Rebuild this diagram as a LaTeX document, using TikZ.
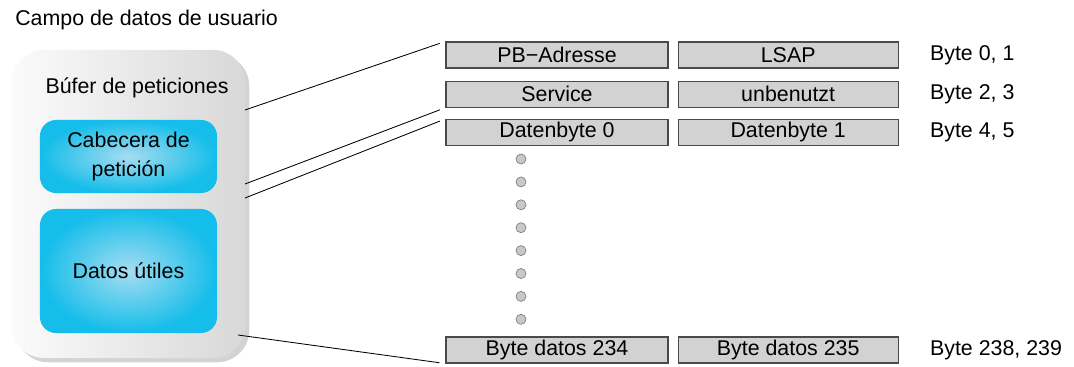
\documentclass[tikz,border=0pt]{standalone}
\usepackage{fontspec}
\setmainfont{Liberation Sans}
\usepackage{tikz}
\usetikzlibrary{positioning,shadows}
\definecolor{Frame}{HTML}{3A3A3A}
\definecolor{Cell}{HTML}{D2D2D2}
\definecolor{CellLine}{HTML}{4A4A4A}
\definecolor{BufLight}{HTML}{FBFBFB}
\definecolor{BufDark}{HTML}{D8D8D8}
\definecolor{Cyan}{HTML}{14BDEA}
\definecolor{CyanLight}{HTML}{A6DDF0}
\definecolor{Dot}{HTML}{C8C8C8}

\begin{document}
\begin{tikzpicture}[
    x=0.025cm,y=-0.025cm,
    txt/.style={font=\fontsize{15.2}{18}\selectfont,inner sep=0pt},
    buffer/.style={rectangle,rounded corners=0.8cm,draw=none,
      left color=BufLight,right color=BufDark,
      drop shadow={opacity=0.35,shadow xshift=3pt,shadow yshift=-3pt}},
    part/.style={rectangle,rounded corners=0.4cm,draw=none,shading=radial,
      inner color=CyanLight,outer color=Cyan,minimum width=4.425cm,
      align=center,font=\fontsize{15.2}{20}\selectfont},
    cell/.style={rectangle,draw=CellLine,line width=0.8pt,fill=Cell,
      minimum height=0.65cm,inner sep=0pt,font=\fontsize{15.2}{18}\selectfont},
    link/.style={draw=black,line width=0.6pt,shorten >=0.15cm},
]
\useasboundingbox (0,0) rectangle (1074,367);

% request buffer
\node[txt,anchor=west] (title) at (15,20) {Campo de datos de usuario};
\node[buffer,minimum width=5.825cm,minimum height=7.7cm] (buf) at (128.5,204) {};
\node[txt] (buflabel) at (137,88) {Búfer de peticiones};
\node[part,minimum height=1.825cm] (head) at (128.5,156.5) {Cabecera de\\petición};
\node[part,minimum height=3.1cm] (data) at (128.5,271) {Datos útiles};

% byte table
\node[cell,minimum width=5.55cm] (pb) at (557,55) {PB−Adresse};
\node[cell,minimum width=5.5cm,right=0.225cm of pb] (lsap) {LSAP};
\node[cell,minimum width=5.55cm,below=0.3cm of pb] (srv) {Service};
\node[cell,minimum width=5.5cm,right=0.225cm of srv] (unb) {unbenutzt};
\node[cell,minimum width=5.55cm,below=0.28cm of srv] (db0) {Datenbyte 0};
\node[cell,minimum width=5.5cm,right=0.225cm of db0] (db1) {Datenbyte 1};
\node[cell,minimum width=5.55cm] (b234) at (557,350) {Byte datos 234};
\node[cell,minimum width=5.5cm,right=0.225cm of b234] (b235) {Byte datos 235};

\node[txt,anchor=west,right=0.775cm of lsap] (r1) {Byte 0, 1};
\node[txt,anchor=west,right=0.775cm of unb] (r2) {Byte 2, 3};
\node[txt,anchor=west,right=0.775cm of db1] (r3) {Byte 4, 5};
\node[txt,anchor=west,right=0.775cm of b235] (r4) {Byte 238, 239};

% gap
\foreach \i in {0,...,7}
  \draw[draw=gray,fill=Dot,line width=0.5pt] (521,159+22.9*\i) circle (0.125cm);

% connectors
\coordinate (c1) at (245,110);
\coordinate (c2) at (245,184);
\coordinate (c3) at (245,198);
\coordinate (c4) at (238,335);
\draw[link] (c1) -- (pb.north west);
\draw[link] (c2) -- (srv.south west);
\draw[link] (c3) -- (db0.north west);
\draw[link] (c4) -- (b234.south west);
\end{tikzpicture}
\end{document}
